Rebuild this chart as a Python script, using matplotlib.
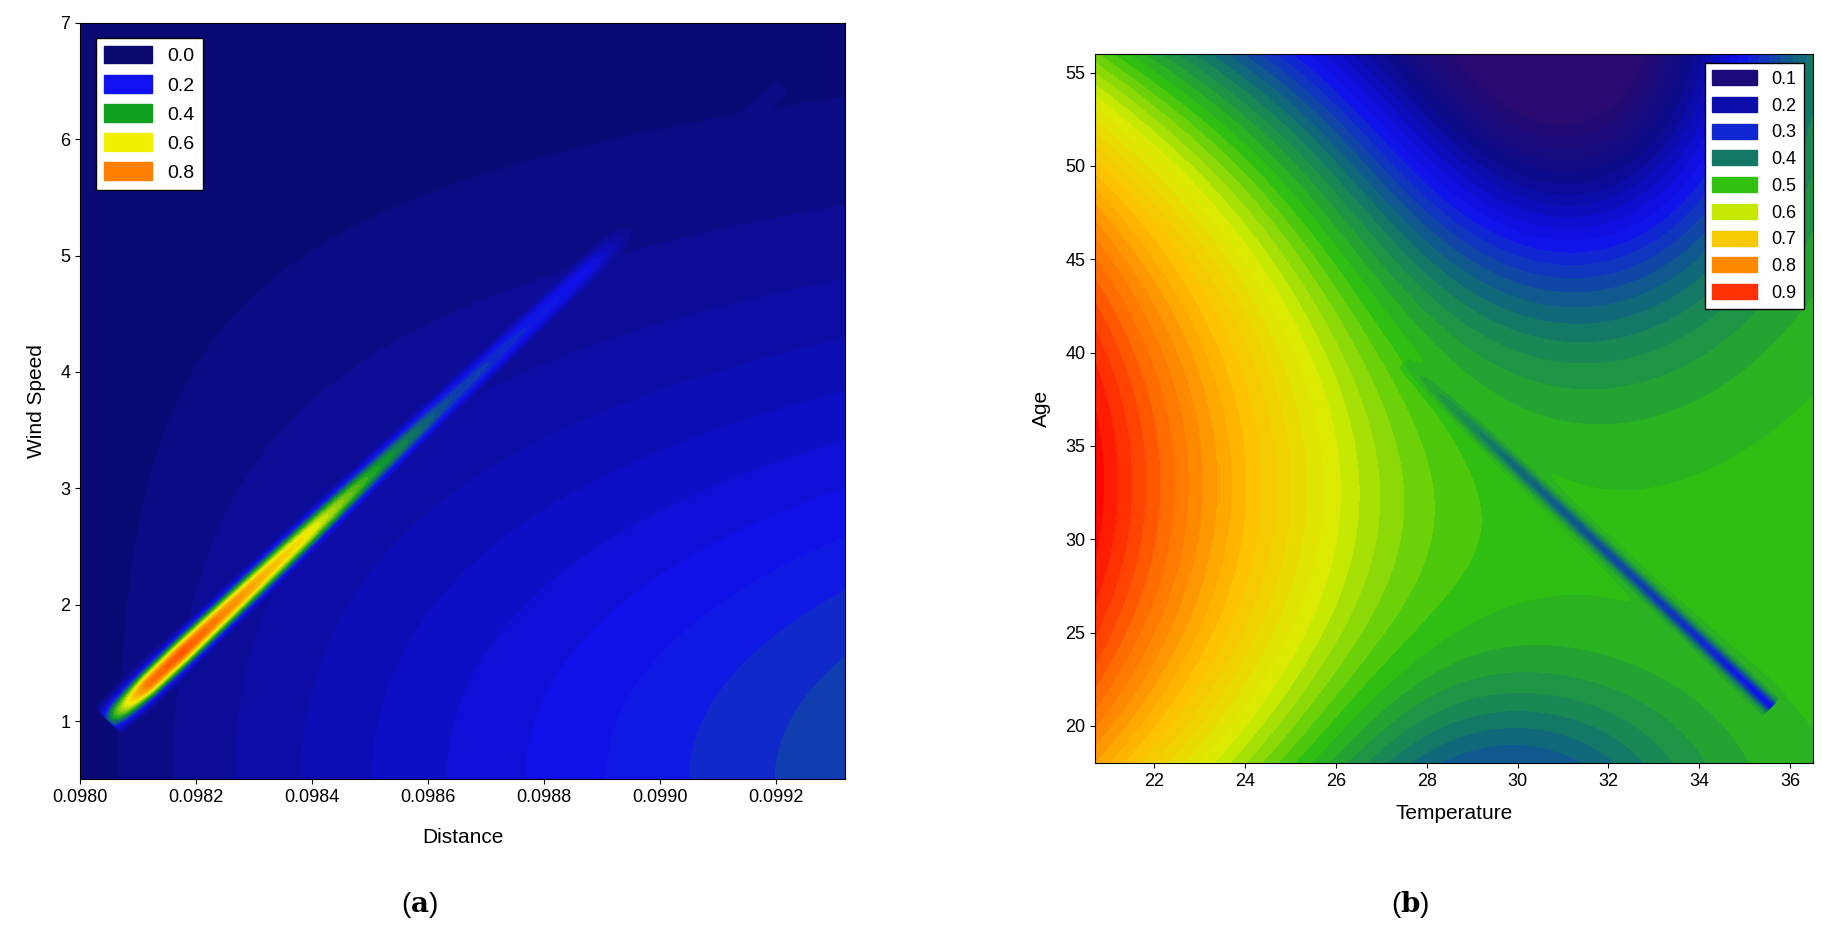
import numpy as np
import matplotlib
matplotlib.use("Agg")
import matplotlib.pyplot as plt
from matplotlib.colors import LinearSegmentedColormap
from matplotlib.patches import Patch

plt.rcParams['font.family'] = ['Liberation Sans', 'DejaVu Sans']
plt.rcParams['mathtext.fontset'] = 'dejavuserif'

# ---- panel (a) data ----
a_xlim = [0.0980, 0.09932]
a_ylim = [0.5, 7.0]
a_xticks = [0.0980, 0.0982, 0.0984, 0.0986, 0.0988, 0.0990, 0.0992]
a_yticks = [1, 2, 3, 4, 5, 6, 7]
a_legend_vals = [0.0, 0.2, 0.4, 0.6, 0.8]
a_ridge_start = [0.09805, 1.0]
a_ridge_end = [0.09888, 4.9]
a_ridge_amp_t = [0.0, 0.08, 0.15, 0.41, 0.54, 0.7, 1.0, 1.08, 1.4]
a_ridge_amp = [0.4, 0.82, 0.88, 0.62, 0.42, 0.28, 0.18, 0.05, 0.03]
a_bg_max = 0.27

# ---- panel (b) data ----
b_xlim = [20.7, 36.5]
b_ylim = [18, 56]
b_xticks = [22, 24, 26, 28, 30, 32, 34, 36]
b_yticks = [20, 25, 30, 35, 40, 45, 50, 55]
b_legend_vals = [0.1, 0.2, 0.3, 0.4, 0.5, 0.6, 0.7, 0.8, 0.9]
b_center = [30.0, 33.0]
b_dip_start = [27.5, 39.5]
b_dip_end = [35.6, 21.0]

cmap_a = LinearSegmentedColormap.from_list('a', [
    (0.0, '#0a0a6e'), (0.2, '#1010f0'), (0.4, '#10a020'),
    (0.6, '#f0f000'), (0.8, '#ff8000'), (1.0, '#ff1000')])
cmap_b = LinearSegmentedColormap.from_list('b', [
    (0.0, '#2a0a6e'), (0.125, '#0a0a8a'), (0.25, '#1010f0'), (0.375, '#107070'),
    (0.5, '#30c010'), (0.625, '#d8ee00'), (0.75, '#ffc000'), (0.875, '#ff7000'),
    (1.0, '#ff0000')])

fig = plt.figure(figsize=(18.22, 9.47), dpi=100)

# ---------- (a) ----------
ax1 = fig.add_axes([0.044, 0.177, 0.42, 0.799])
X, Y = np.meshgrid(np.linspace(*a_xlim, 500), np.linspace(*a_ylim, 500))
s = np.clip((X - a_xlim[0]) / (a_xlim[1] - a_xlim[0]), 0, 1)
Z = a_bg_max * s ** 0.8 * np.exp(-((Y - 0.5) / 3.8) ** 2)
xr = a_xlim[1] - a_xlim[0]; yr = a_ylim[1] - a_ylim[0]
px = (X - a_ridge_start[0]) / xr; py = (Y - a_ridge_start[1]) / yr
dx = (a_ridge_end[0] - a_ridge_start[0]) / xr; dy = (a_ridge_end[1] - a_ridge_start[1]) / yr
L2 = dx * dx + dy * dy
t = (px * dx + py * dy) / L2
d = np.sqrt((px - t * dx) ** 2 + (py - t * dy) ** 2)
amp = np.interp(t, a_ridge_amp_t, a_ridge_amp, left=0, right=0)
amp = amp * (1 / (1 + np.exp(-(t + 0.01) / 0.01)))
w = 0.016 + 0.012 * np.clip(t - 1, 0, 1)
Z = np.maximum(Z, amp * np.exp(-(d / w) ** 2))
ax1.contourf(X, Y, Z, levels=np.linspace(0, 1, 41), cmap=cmap_a, vmin=0, vmax=1)
ax1.set_xlim(a_xlim); ax1.set_ylim(a_ylim)
ax1.set_xticks(a_xticks); ax1.set_xticklabels([f'{v:.4f}' for v in a_xticks])
ax1.set_yticks(a_yticks)
ax1.set_xlabel('Distance', fontsize=15, labelpad=16); ax1.set_ylabel('Wind Speed', fontsize=15, labelpad=10)
ax1.tick_params(labelsize=13)
h = [Patch(color=cmap_a(v)) for v in a_legend_vals]
ax1.legend(h, [f'{v:.1f}' for v in a_legend_vals], loc='upper left', fontsize=14,
           fancybox=False, edgecolor='black', framealpha=1, handlelength=2.5,
           handleheight=1.0, borderaxespad=0.8)

# ---------- (b) ----------
ax2 = fig.add_axes([0.601, 0.194, 0.394, 0.749])
X, Y = np.meshgrid(np.linspace(*b_xlim, 500), np.linspace(*b_ylim, 500))
u = X - b_center[0]; v = Y - b_center[1]
sp = 1.2 * np.log1p(np.exp((-u - 2.5) / 1.2))
Z = 0.5 + 0.065 * sp
gl = 1 / (1 + np.exp((u + 1) / 2.5))
Z = Z - 0.0008 * v ** 2 * gl
Z = Z - 0.40 * np.exp(-((u - 1.5) / 4.0) ** 2) * np.exp(-((Y - 57) / 13) ** 2)
Z = Z - 0.10 * np.exp(-((u - 0.5) / 3.5) ** 2) * np.exp(-((Y - 16) / 6) ** 2)
xr = b_xlim[1] - b_xlim[0]; yr = b_ylim[1] - b_ylim[0]
px = (X - b_dip_start[0]) / xr; py = (Y - b_dip_start[1]) / yr
dx = (b_dip_end[0] - b_dip_start[0]) / xr; dy = (b_dip_end[1] - b_dip_start[1]) / yr
t = (px * dx + py * dy) / (dx * dx + dy * dy)
d = np.sqrt((px - t * dx) ** 2 + (py - t * dy) ** 2)
dip = np.interp(t, [0, 0.3, 1.0], [0.02, 0.12, 0.22], left=0, right=0)
Z = Z - dip * np.exp(-(d / 0.011) ** 2)
ax2.contourf(X, Y, Z, levels=np.linspace(0.05, 0.95, 46), cmap=cmap_b, vmin=0.05, vmax=0.95, extend='both')
ax2.set_xlim(b_xlim); ax2.set_ylim(b_ylim)
ax2.set_xticks(b_xticks); ax2.set_yticks(b_yticks)
ax2.set_xlabel('Temperature', fontsize=15, labelpad=10); ax2.set_ylabel('Age', fontsize=15, labelpad=10)
ax2.tick_params(labelsize=13)
h = [Patch(color=cmap_b((v - 0.05) / 0.9)) for v in b_legend_vals]
ax2.legend(h, [f'{v:.1f}' for v in b_legend_vals], loc='upper right', fontsize=13,
           fancybox=False, edgecolor='black', framealpha=1, handlelength=2.5, handleheight=0.9)

fig.text(0.23, 0.037, r'($\mathbf{a}$)', fontsize=20, ha='center')
fig.text(0.774, 0.037, r'($\mathbf{b}$)', fontsize=20, ha='center')
fig.savefig('out.png', dpi=100)
